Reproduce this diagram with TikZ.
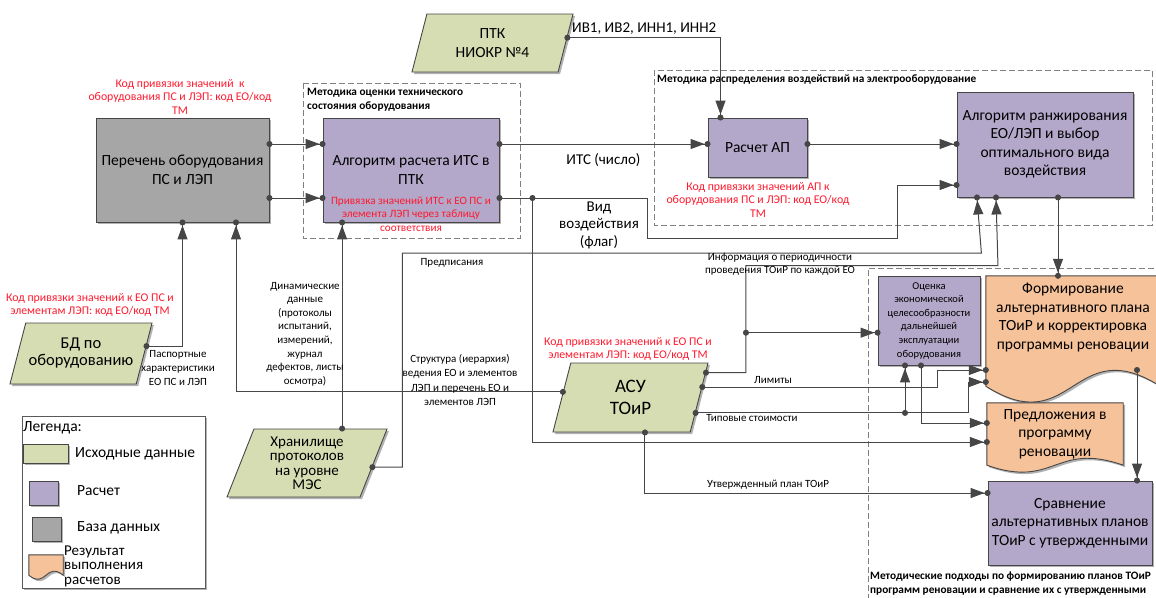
\documentclass[tikz,border=0pt]{standalone}
\usepackage{fontspec}
\setmainfont{Carlito}
\usetikzlibrary{shapes.geometric,arrows.meta,calc,shadows,backgrounds}

\definecolor{srcgreen}{RGB}{215,221,179}
\definecolor{calcviolet}{RGB}{179,168,202}
\definecolor{basegray}{RGB}{166,166,166}
\definecolor{resorange}{RGB}{246,194,153}
\definecolor{edgegray}{RGB}{70,70,70}
\definecolor{codered}{RGB}{255,25,45}

% outline of a "document" shape round a node: node, extra depth, wave
\newcommand\docoutline[3]{%
  \coordinate (#1-se) at ([yshift=-#2]#1.south east);
  \coordinate (#1-sw) at ([yshift=-#2]#1.south west);
  \coordinate (#1-mid) at ($(#1-se)!0.5!(#1-sw)$);
  \path[resfill] (#1.north west) -- (#1.north east) -- (#1-se)
    .. controls ([yshift=#3]#1-mid) and ([yshift=-#3]#1-mid) .. (#1-sw) -- cycle;
}

\tikzset{
  boxshadow/.style={drop shadow={shadow xshift=2pt,shadow yshift=-2pt,opacity=.3,fill=black}},
  calcbox/.style={rectangle,draw=edgegray,line width=0.9pt,fill=calcviolet,boxshadow,align=center,inner sep=2pt},
  basebox/.style={calcbox,fill=basegray},
  srcbox/.style={trapezium,trapezium left angle=64,trapezium right angle=116,trapezium stretches body,
    draw=edgegray,line width=0.9pt,fill=srcgreen,boxshadow,align=center,inner sep=1pt},
  resbox/.style={rectangle,align=center,inner sep=0pt},
  resfill/.style={draw=edgegray,line width=0.9pt,fill=resorange,boxshadow},
  big/.style={font=\fontsize{15.5}{18.5}\selectfont},
  mid/.style={font=\fontsize{15}{17.5}\selectfont,align=center},
  small/.style={font=\fontsize{11}{13.6}\selectfont,align=center},
  note/.style={font=\fontsize{11.8}{13.5}\selectfont,text=codered,align=center},
  grouptitle/.style={font=\bfseries\fontsize{11.3}{14}\selectfont,align=left,inner sep=0pt},
  group/.style={draw=gray,line width=0.9pt,dash pattern=on 6pt off 3pt},
  link/.style={draw=edgegray,line width=1pt,
    {Circle[length=6pt]}-{Triangle[length=14pt,width=10pt] Circle[length=6pt]},
    shorten <=-3pt,shorten >=-3pt},
}

\begin{document}
\begin{tikzpicture}[x=1pt,y=-1pt]
  \useasboundingbox (0,0) rectangle (1156,597);

  % frames of the methods
  \draw[group] (303,83) rectangle (520,238);
  \draw[group] (654,70) rectangle (1152,225);
  \draw[group] (868,600) -- (868,268) -- (1158,268);
  \node[grouptitle,anchor=north west] at (307,88) {Методика оценки технического\\состояния оборудования};
  \node[grouptitle,anchor=west] at (657,80) {Методика распределения воздействий на электрооборудование};
  \node[grouptitle,anchor=north west] at (870,572) {Методические подходы по формированию планов ТОиР\\программ реновации и сравнение их с утвержденными};

  % boxes
  \node[basebox,big,minimum width=173pt,minimum height=104pt] (perechen) at (182.5,170) {Перечень оборудования\\ПС и ЛЭП};
  \node[calcbox,big,minimum width=176pt,minimum height=104pt] (its) at (411,170) {Алгоритм расчета ИТС в\\ПТК};
  \node[srcbox,big,minimum width=161pt,minimum height=58pt] (ptk) at (492.5,43) {ПТК\\НИОКР №4};
  \node[calcbox,big,minimum width=99pt,minimum height=59pt] (apr) at (757.5,147.5) {Расчет АП};
  \node[calcbox,big,minimum width=176pt,minimum height=105pt] (rank) at (1045,144.5) {Алгоритм ранжирования\\ЕО/ЛЭП и выбор\\оптимального вида\\воздействия};
  \node[calcbox,small,font=\fontsize{10.5}{13.6}\selectfont,minimum width=102pt,minimum height=89pt] (ocenka) at (929,320.5) {Оценка\\экономической\\целесообразности\\дальнейшей\\эксплуатации\\оборудования};
  \node[resbox,big,minimum width=174pt,minimum height=83pt] (formir) at (1073,317.5) {Формирование\\альтернативного плана\\ТОиР и корректировка\\программы реновации};
  \node[resbox,big,minimum width=136pt,minimum height=62pt] (predl) at (1055,434) {Предложения в\\программу\\реновации};
  \node[calcbox,big,minimum width=164pt,minimum height=84pt] (sravn) at (1070,523) {Сравнение\\альтернативных планов\\ТОиР с утвержденными};
  \node[srcbox,font=\fontsize{19}{22}\selectfont,minimum width=155pt,minimum height=69pt] (asu) at (630.5,397.5) {АСУ\\ТОиР};
  \node[srcbox,font=\fontsize{15}{14.5}\selectfont,minimum width=160pt,minimum height=68pt] (hran) at (307,463) {Хранилище\\протоколов\\на уровне\\МЭС};
  \node[srcbox,font=\fontsize{16.5}{17}\selectfont,minimum width=142pt,minimum height=61pt] (bd) at (81,353.5) {БД по\\оборудованию};

  % legend
  \node[srcbox,inner sep=0pt,minimum width=45pt,minimum height=19pt] (legsrc) at (45.5,453.5) {};
  \node[calcbox,minimum width=29pt,minimum height=24pt] (legcalc) at (43.5,493) {};
  \node[basebox,minimum width=29pt,minimum height=24pt] (legbase) at (46.5,529) {};
  \node[resbox,minimum width=34pt,minimum height=20pt] (legres) at (46,565) {};
  \node[big,anchor=west,inner sep=0pt] (legtitle) at (23,428) {Легенда:};
  \node[big,anchor=west,inner sep=0pt] (legsrctext) at (75,454) {Исходные данные};
  \node[big,anchor=west,inner sep=0pt] (legcalctext) at (77,491) {Расчет};
  \node[big,anchor=west,inner sep=0pt] (legbasetext) at (77,528) {База данных};
  \node[font=\fontsize{15}{14.5}\selectfont,align=left,anchor=west,inner sep=0pt] (legrestext) at (64,566) {Результат\\выполнения\\расчетов};

  \begin{scope}[on background layer]
    \filldraw[draw=gray!70!black,fill=white,line width=0.9pt,boxshadow] (22,416) rectangle (205,588);
    \docoutline{formir}{27pt}{55pt}
    \docoutline{predl}{0pt}{24pt}
    \docoutline{legres}{0pt}{14pt}
  \end{scope}

  % red notes
  \node[note] (notePerechen) at (180,97) {Код привязки значений~~к\\оборудования ПС и ЛЭП: код ЕО/код\\ТМ};
  \node[note,font=\fontsize{11.2}{13.5}\selectfont] (noteIts) at (411,214) {Привязка значений ИТС к ЕО ПС и\\элемента ЛЭП через таблицу\\соответствия};
  \node[note] (noteApr) at (758,200) {Код привязки значений АП к\\оборудования ПС и ЛЭП: код ЕО/код\\ТМ};
  \node[note] (noteBd) at (90,305) {Код привязки значений к ЕО ПС и\\элементам ЛЭП: код ЕО/код ТМ};
  \node[note] (noteAsu) at (628,349) {Код привязки значений к ЕО ПС и\\элементам ЛЭП: код ЕО/код ТМ};

  % ports on the slanted sides
  \coordinate (ptkout) at ($(ptk.top right corner)!0.41!(ptk.bottom right corner)$);
  \coordinate (hranin) at ($(hran.top left corner)!0.66!(hran.top right corner)$);
  \coordinate (hranout) at ($(hran.top right corner)!0.56!(hran.bottom right corner)$);
  \coordinate (bdout) at ($(bd.top right corner)!0.38!(bd.bottom right corner)$);
  \coordinate (asuin) at ($(asu.top left corner)!0.42!(asu.bottom left corner)$);
  \coordinate (asuout1) at ($(asu.top right corner)!0.145!(asu.bottom right corner)$);
  \coordinate (asuout2) at ($(asu.top right corner)!0.35!(asu.bottom right corner)$);
  \coordinate (asuout3) at ($(asu.top right corner)!0.72!(asu.bottom right corner)$);
  \coordinate (asuout4) at ($(asu.bottom left corner)!0.67!(asu.bottom right corner)$);
  \coordinate (flagdot) at ([xshift=33pt,yshift=-28pt]its.east);
  \coordinate (infodot) at ($(asuout1)+(40,-40)$);
  \coordinate (costdot) at ([xshift=-24pt]ocenka.south |- asuout3);
  \coordinate (formirout) at ([xshift=64pt,yshift=-52.5pt]formir.center);

  % connectors
  \draw[link] ([yshift=26pt]perechen.east) -- ([yshift=26pt]its.west);
  \draw[link] ([yshift=-28pt]perechen.east) -- ([yshift=-28pt]its.west);
  \draw[link] ([yshift=26pt]its.east) -- ([yshift=26pt]its.east -| apr.west)
    node[midway,below=6pt,mid] (itsnum) {ИТС (число)};
  \draw[link] ([yshift=3.5pt]apr.east) -- ([yshift=3.5pt]apr.east -| rank.west);
  \draw[link] (ptkout) -| ([xshift=-37pt]apr.north);
  \node[mid,anchor=west,inner sep=0pt] (ivinn) at (572,29) {ИВ1, ИВ2, ИНН1, ИНН2};
  \draw[link] ([yshift=-28pt]its.east) -- ++(148,0) |- ++(250,40) |- ([yshift=-40.5pt]rank.west);
  \node[font=\fontsize{15}{17.5}\selectfont,align=center] (flag) at (599,225) {Вид\\воздействия\\(флаг)};
  \draw[link] (flagdot) |- ([yshift=-8pt]predl.west);
  \draw[link] (hranin) -- (hranin |- its.south);
  \node[small] (dynamic) at (305,334) {Динамические\\данные\\(протоколы\\испытаний,\\измерений,\\журнал\\дефектов, листы\\осмотра)};
  \draw[link] (hranout) -- ++(30,0) |- ++(579,-214) -- ([xshift=-68pt]rank.south);
  \node[small] (prescript) at (452,263) {Предписания};
  \draw[link] (asuout1) -- ++(40,0) |- ++(252,-107) -- ([xshift=-49pt]rank.south);
  \node[small] (info) at (780,264) {Информация о периодичности\\проведения ТОиР по каждой ЕО};
  \draw[link] (infodot) -- (infodot -| ocenka.west);
  \draw[link] (asuout2) -- ++(235,0) |- ([yshift=-52.5pt]formir.west);
  \node[small] (limits) at (773,380) {Лимиты};
  \draw[link] (asuout3) -- ++(273,0) |- ([yshift=-64.5pt]formir.west);
  \node[small] (costs) at (752,418) {Типовые стоимости};
  \draw[link] (costdot) -- (costdot |- ocenka.south);
  \draw[link] ([xshift=-8pt]ocenka.south) |- ([yshift=11pt]predl.west);
  \draw[link] (asuout4) |- ([yshift=30pt]sravn.west);
  \node[small] (approved) at (768,485) {Утвержденный план ТОиР};
  \draw[link] (asuin) -| ([xshift=53.5pt]perechen.south);
  \node[small,font=\fontsize{11}{14.6}\selectfont] (struct) at (460,380) {Структура (иерархия)\\ведения ЕО и элементов\\ЛЭП и перечень ЕО и\\элементов ЛЭП};
  \draw[link] (bdout) -| (perechen.south);
  \node[small] (passport) at (178,368) {Паспортные\\характеристики\\ЕО ПС и ЛЭП};
  \draw[link] ([xshift=13pt]rank.south) -- ([xshift=13pt]rank.south |- formir.north);
  \draw[link] (formirout) -- (formirout |- sravn.north);
\end{tikzpicture}
\end{document}
